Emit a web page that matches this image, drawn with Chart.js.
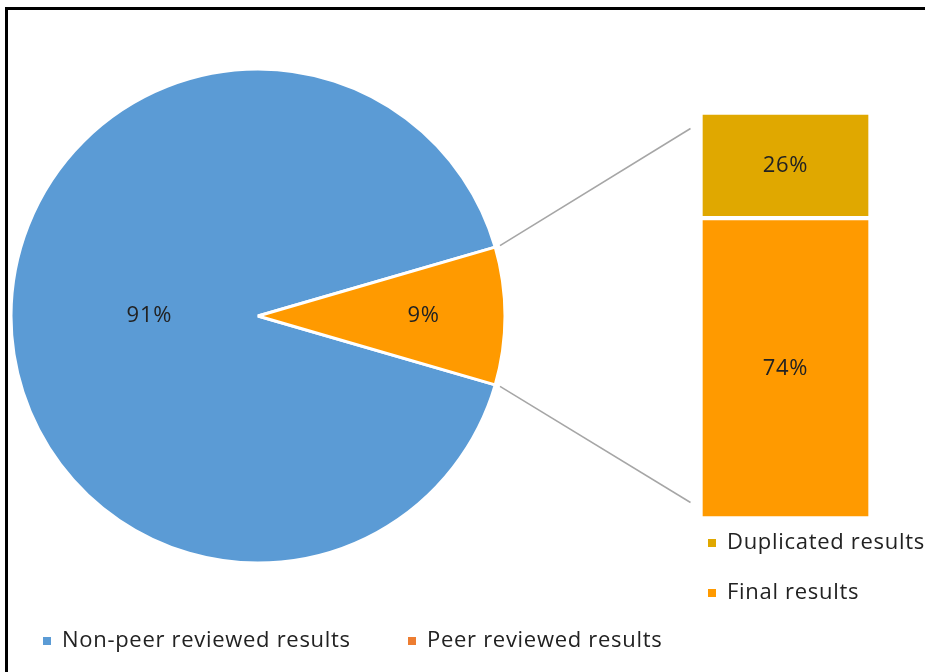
<!DOCTYPE html>
<html>
<head>
<meta charset="utf-8">
<script src="https://cdn.jsdelivr.net/npm/chart.js@4.4.1/dist/chart.umd.min.js"></script>
<style>
    html, body {
        margin: 0;
        padding: 0;
        background: #ffffff;
        overflow: hidden;
    }
    .frame {
        position: absolute;
        left: 5px;
        top: 7px;
        width: 1000px;
        height: 800px;
        border-left: 3px solid #000000;
        border-top: 3px solid #000000;
    }
    canvas {
        position: absolute;
        left: 0;
        top: 0;
    }
</style>
</head>
<body>
<div class="frame"></div>
<canvas id="pie" width="925" height="672"></canvas>
<canvas id="bar" width="925" height="672"></canvas>
<script>
// pie: share of reviewed results
const pieLabels = ['Non-peer reviewed results', 'Peer reviewed results'];
const pieValues = [91, 9];
const pieColors = ['#5b9bd5', '#ff9a00'];
const pieLegendColors = ['#5b9bd5', '#ed7d31'];

// bar: breakdown of the peer reviewed slice (bottom to top)
const barLabels = ['Final results', 'Duplicated results'];
const barValues = [74, 26];
const barColors = ['#ff9a00', '#e0a800'];

const FONT = '"Open Sans", "Noto Sans", sans-serif';
const TEXT_COLOR = '#222222';
const SPACING = '0.7px';

Chart.defaults.font.family = FONT;
Chart.defaults.animation = false;

// percentages drawn in the middle of each slice
const sliceLabels = {
    id: 'sliceLabels',
    afterDatasetsDraw(chart, args, opts) {
        const ctx = chart.ctx;
        const meta = chart.getDatasetMeta(0);
        const total = pieValues.reduce((a, b) => a + b, 0);
        ctx.save();
        ctx.font = `${opts.size}px ${FONT}`;
        ctx.letterSpacing = SPACING;
        ctx.fillStyle = TEXT_COLOR;
        ctx.textAlign = 'center';
        ctx.textBaseline = 'middle';
        meta.data.forEach((arc, i) => {
            const mid = (arc.startAngle + arc.endAngle) / 2;
            const r = arc.outerRadius * opts.radius[i];
            const pct = Math.round(pieValues[i] / total * 100);
            ctx.fillText(pct + '%', arc.x + Math.cos(mid) * r, arc.y + Math.sin(mid) * r);
        });
        ctx.restore();
    }
};

// legend laid out by hand under the pie / under the bar
function drawLegend(ctx, items, opts) {
    ctx.save();
    ctx.font = `${opts.size}px ${FONT}`;
    ctx.letterSpacing = SPACING;
    ctx.textBaseline = 'middle';
    ctx.textAlign = 'left';
    items.forEach((item, i) => {
        const x = opts.x[i];
        const y = opts.y[i];
        ctx.fillStyle = item.color;
        ctx.fillRect(x, y - 4, 8, 8);
        ctx.fillStyle = TEXT_COLOR;
        ctx.fillText(item.text, x + opts.gap, y);
    });
    ctx.restore();
}

const pieLegend = {
    id: 'pieLegend',
    afterDraw(chart, args, opts) {
        const items = pieLabels.map((t, i) => ({ text: t, color: pieLegendColors[i] }));
        drawLegend(chart.ctx, items, opts);
    }
};

const pieChart = new Chart(document.getElementById('pie'), {
    type: 'pie',
    data: {
        labels: pieLabels,
        datasets: [{
            data: pieValues,
            backgroundColor: pieColors,
            borderColor: '#ffffff',
            borderWidth: 3,
            radius: 247
        }]
    },
    options: {
        responsive: false,
        devicePixelRatio: 1,
        // keep the small slice centred on the right-hand side
        rotation: 90 + pieValues[1] / (pieValues[0] + pieValues[1]) * 180,
        layout: { padding: { left: 8, right: 417, top: 66, bottom: 106 } },
        plugins: {
            legend: { display: false },
            tooltip: { enabled: false },
            sliceLabels: { size: 22, radius: [0.44, 0.67] },
            pieLegend: { size: 22, x: [43, 408], y: [641, 641], gap: 19 }
        }
    },
    plugins: [sliceLabels, pieLegend]
});

// bar segment labels, connector lines and right legend
const barDecor = {
    id: 'barDecor',
    afterDatasetsDraw(chart, args, opts) {
        const ctx = chart.ctx;
        ctx.save();
        ctx.font = `${opts.size}px ${FONT}`;
        ctx.letterSpacing = SPACING;
        ctx.fillStyle = TEXT_COLOR;
        ctx.textAlign = 'center';
        ctx.textBaseline = 'middle';
        const total = barValues.reduce((a, b) => a + b, 0);
        chart.data.datasets.forEach((ds, i) => {
            const bar = chart.getDatasetMeta(i).data[0];
            const p = bar.getCenterPoint();
            ctx.fillText(Math.round(barValues[i] / total * 100) + '%', p.x, p.y);
        });

        // lines from the edges of the small slice to the bar
        const arc = pieChart.getDatasetMeta(0).data[1];
        const area = chart.chartArea;
        const r = arc.outerRadius + 5;
        const ends = [
            [arc.startAngle, area.top + 16],
            [arc.endAngle, area.bottom - 16]
        ];
        ctx.strokeStyle = '#a6a6a6';
        ctx.lineWidth = 1.5;
        ends.forEach(([angle, y]) => {
            ctx.beginPath();
            ctx.moveTo(arc.x + Math.cos(angle) * r, arc.y + Math.sin(angle) * r);
            ctx.lineTo(area.left - 10, y);
            ctx.stroke();
        });
        ctx.restore();

        const items = barLabels.map((t, i) => ({ text: t, color: barColors[i] })).reverse();
        drawLegend(ctx, items, opts.legend);
    }
};

const barChart = new Chart(document.getElementById('bar'), {
    type: 'bar',
    data: {
        labels: [''],
        datasets: barLabels.map((label, i) => ({
            label: label,
            data: [barValues[i]],
            backgroundColor: barColors[i],
            borderColor: '#ffffff',
            borderWidth: 2.5,
            borderSkipped: false,
            barPercentage: 1,
            categoryPercentage: 1
        }))
    },
    options: {
        responsive: false,
        devicePixelRatio: 1,
        layout: { padding: { left: 700.5, right: 54.5, top: 112.5, bottom: 153.5 } },
        scales: {
            x: { display: false, stacked: true },
            y: { display: false, stacked: true, min: 0, max: 100 }
        },
        plugins: {
            legend: { display: false },
            tooltip: { enabled: false },
            barDecor: {
                size: 22,
                legend: { size: 22, x: [708, 708], y: [543, 593], gap: 19 }
            }
        }
    },
    plugins: [barDecor]
});
</script>
</body>
</html>
